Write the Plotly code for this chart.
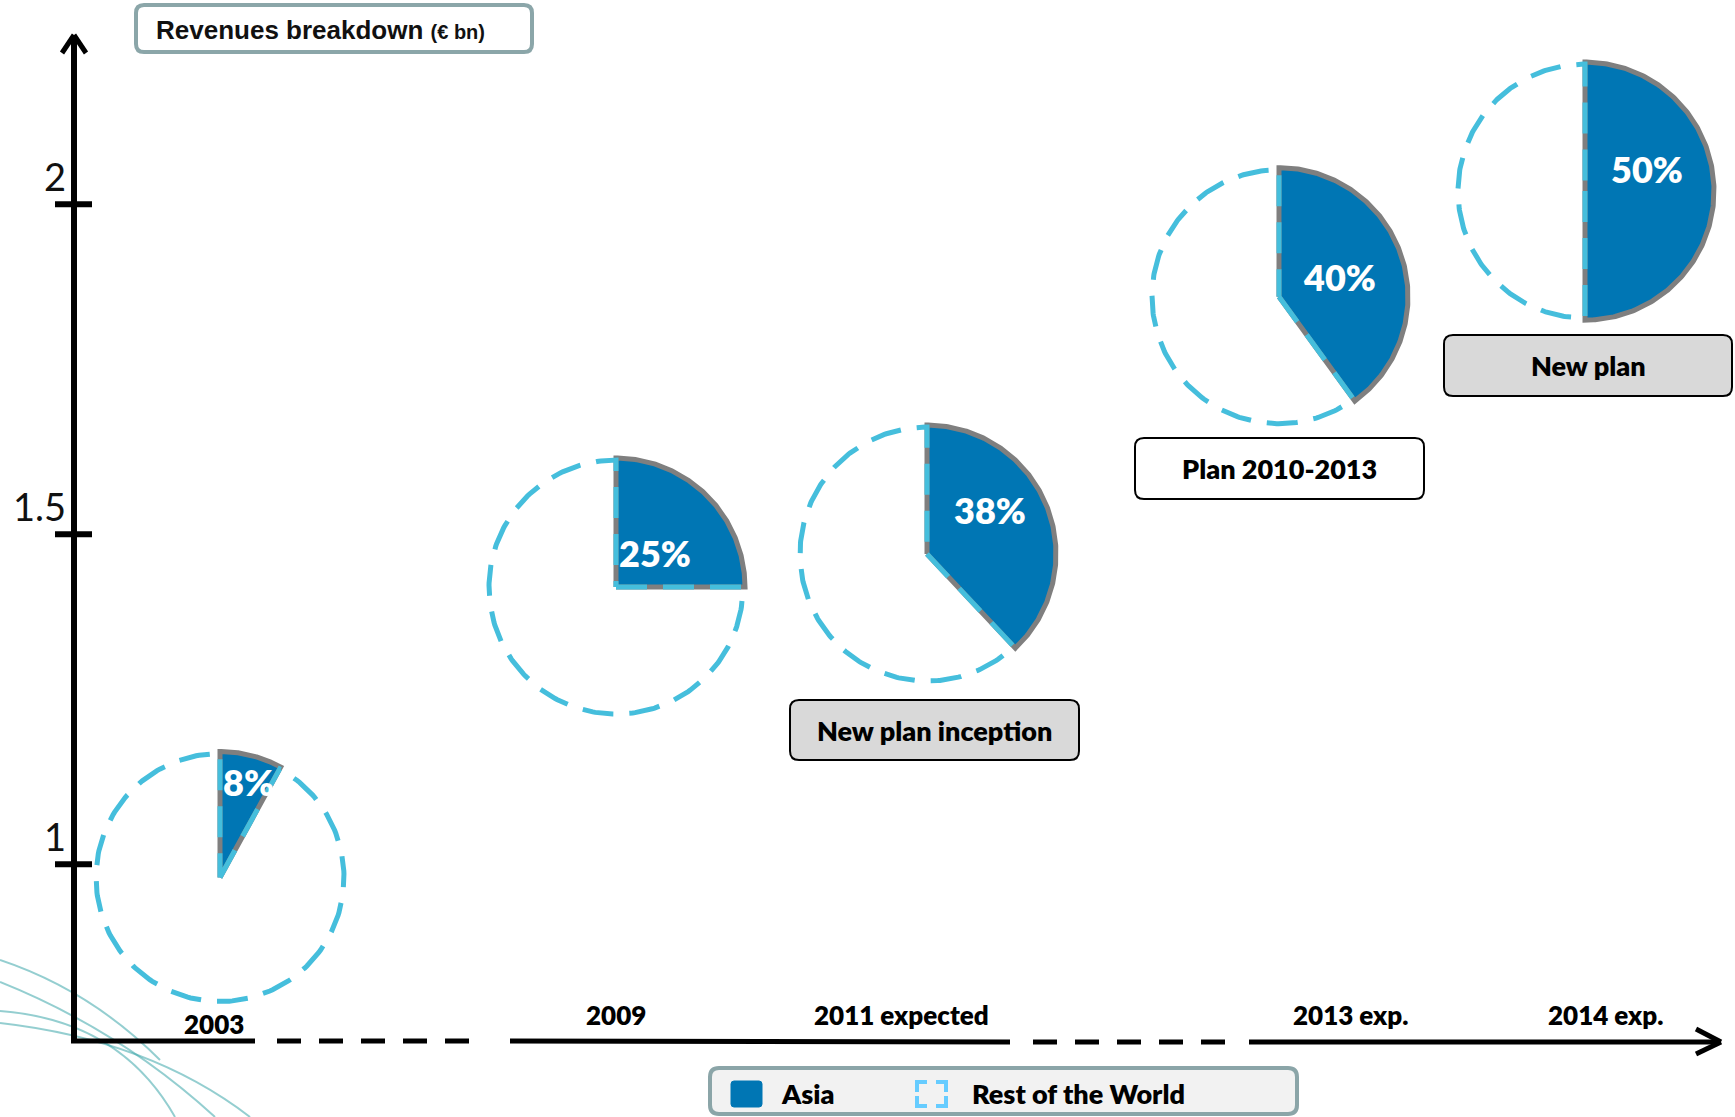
import numpy as np
import plotly.graph_objects as go

# ------------------------------------------------------------------ data
periods = ["2003", "2009", "2011 expected", "2013 exp.", "2014 exp."]
revenues_bn = [0.98, 1.42, 1.47, 1.86, 2.02]          # pie centre height (€ bn)
asia_share_pct = [8, 25, 38, 40, 50]                  # Asia share of revenues
series_names = ["Asia", "Rest of the World"]
y_tick_vals = [1, 1.5, 2]
y_tick_text = ["1", "1.5", "2"]
milestones = ["New plan inception", "Plan 2010-2013", "New plan"]
title_main = "Revenues breakdown"
title_unit = "(€ bn)"

# ------------------------------------------------------------------ layout / style
W, H = 1735, 1117
X_RANGE = [0.0, 17.35]
Y_RANGE = [0.6171, 2.3095]
XSPAN = X_RANGE[1] - X_RANGE[0]
YSPAN = Y_RANGE[1] - Y_RANGE[0]

pie_slot_x = [2.20, 6.16, 9.27, 12.79, 15.85]          # horizontal slot of each pie
period_label_x = [2.14, 6.16, 9.01, 13.50, 16.05]      # slot of each period label
period_label_py = [1024, 1015, 1015, 1015, 1015]
pie_radius_px = [124, 127, 127, 127, 127]
pct_offset_px = [(28, -95), (39, -34), (63, -44), (60, -20), (62, -22)]
milestone_boxes = [  # x0, y0, x1, y1 (px), fill
    (790, 700, 1079, 760, "#D9D9D9"),
    (1135, 438, 1424, 499, "#FFFFFF"),
    (1444, 335, 1732, 396, "#D9D9D9"),
]

ASIA = "#0076B4"
ROW_LINE = "#45BEDC"
GREY_ARC = "#7F7F7F"
FONT = "Lato, 'Open Sans', sans-serif"
HEAVY = 800
AXIS_X_PX = 74
AXIS_Y_PX = 1041


def pxx(px):  # paper x
    return px / W


def pyy(py):  # paper y
    return 1 - py / H


def wedge(cx, cy, r_px, a_start, a_end, n=240):
    rx = r_px * XSPAN / W
    ry = r_px * YSPAN / H
    ang = np.radians(np.linspace(a_start, a_end, n))
    xs = np.concatenate([[cx], cx + rx * np.cos(ang), [cx]])
    ys = np.concatenate([[cy], cy + ry * np.sin(ang), [cy]])
    return xs, ys


fig = go.Figure()

for i, (cx, cy, share) in enumerate(zip(pie_slot_x, revenues_bn, asia_share_pct)):
    r = pie_radius_px[i]
    a_end = 90 - 360 * share / 100
    xs, ys = wedge(cx, cy, r + 2, 90, a_end)
    fig.add_trace(go.Scatter(
        x=xs, y=ys, mode="lines", fill="toself", fillcolor=ASIA,
        line=dict(color=GREY_ARC, width=5), name=series_names[0],
        showlegend=False, hoverinfo="skip"))
    xs, ys = wedge(cx, cy, r, a_end, -270)
    fig.add_trace(go.Scatter(
        x=xs, y=ys, mode="lines",
        line=dict(color=ROW_LINE, width=5, dash="31px,16px"),
        name=series_names[1], showlegend=False, hoverinfo="skip"))
    dx, dy = pct_offset_px[i]
    fig.add_annotation(
        x=cx + dx * XSPAN / W, y=cy - dy * YSPAN / H, xref="x", yref="y",
        xanchor="center", yanchor="middle",
        text=f"{share}%", showarrow=False,
        font=dict(family=FONT, size=36, color="white", weight=HEAVY))

# period labels
for lab, lx, ly in zip(periods, period_label_x, period_label_py):
    fig.add_annotation(x=lx, y=pyy(ly), xref="x", yref="paper", text=lab,
                       xanchor="center", yanchor="middle", showarrow=False,
                       font=dict(family=FONT, size=26, color="black", weight=HEAVY))

shapes = []


def line(x0, y0, x1, y1, width=5, dash=None, color="black", layer="above"):
    d = dict(type="line", xref="paper", yref="paper", x0=pxx(x0), y0=pyy(y0),
             x1=pxx(x1), y1=pyy(y1), layer=layer,
             line=dict(color=color, width=width))
    if dash:
        d["line"]["dash"] = dash
    shapes.append(d)


def rrect(x0, y0, x1, y1, r, fill, border, bw, layer="above"):
    X, Y = pxx, pyy
    path = (f"M {X(x0+r)},{Y(y0)} L {X(x1-r)},{Y(y0)} Q {X(x1)},{Y(y0)} {X(x1)},{Y(y0+r)} "
            f"L {X(x1)},{Y(y1-r)} Q {X(x1)},{Y(y1)} {X(x1-r)},{Y(y1)} "
            f"L {X(x0+r)},{Y(y1)} Q {X(x0)},{Y(y1)} {X(x0)},{Y(y1-r)} "
            f"L {X(x0)},{Y(y0+r)} Q {X(x0)},{Y(y0)} {X(x0+r)},{Y(y0)} Z")
    shapes.append(dict(type="path", xref="paper", yref="paper", path=path,
                       fillcolor=fill, layer=layer, line=dict(color=border, width=bw)))


def text(px, py, txt, size=27, xanchor="center", family=FONT, color="black", weight=HEAVY):
    fig.add_annotation(x=pxx(px), y=pyy(py), xref="paper", yref="paper",
                       xanchor=xanchor, yanchor="middle", text=txt, showarrow=False,
                       font=dict(family=family, size=size, color=color, weight=weight))


# decorative swooshes bottom-left
for (sx, sy, qx, qy, ex, ey) in [(0, 982, 120, 1030, 215, 1117),
                                  (0, 1011, 120, 1020, 175, 1117),
                                  (0, 1023, 150, 1040, 250, 1117),
                                  (0, 960, 90, 990, 160, 1060)]:
    shapes.append(dict(type="path", xref="paper", yref="paper", layer="below",
                       path=f"M {pxx(sx)},{pyy(sy)} Q {pxx(qx)},{pyy(qy)} {pxx(ex)},{pyy(ey)}",
                       line=dict(color="rgba(60,165,170,0.55)", width=2)))

# y axis with arrow
line(AXIS_X_PX, AXIS_Y_PX + 2, AXIS_X_PX, 35, width=6)
line(62, 53, AXIS_X_PX, 35, width=5)
line(86, 53, AXIS_X_PX, 35, width=5)
for v in y_tick_vals:
    shapes.append(dict(type="line", xref="paper", yref="y", x0=pxx(55), x1=pxx(92),
                       y0=v, y1=v, line=dict(color="black", width=6)))

# x axis: solid / dashed segments and arrow
line(AXIS_X_PX - 3, AXIS_Y_PX, 255, AXIS_Y_PX)
line(277, AXIS_Y_PX, 487, AXIS_Y_PX, dash="24px,18px")
line(510, AXIS_Y_PX, 1010, AXIS_Y_PX + 1)
line(1033, AXIS_Y_PX + 1, 1239, AXIS_Y_PX + 1, dash="24px,18px")
line(1249, AXIS_Y_PX + 1, 1719, AXIS_Y_PX + 1)
line(1696, 1029, 1721, AXIS_Y_PX + 1, width=5)
line(1696, 1054, 1721, AXIS_Y_PX + 1, width=5)

# title box
rrect(136, 5, 532, 52, 8, "white", "#8BA6A9", 4)
text(154, 30, f"<b>{title_main}</b> <b><span style='font-size:20px'>{title_unit}</span></b>",
     size=26, xanchor="left", family="'Liberation Sans', Arial, sans-serif", color="#111",
     weight="normal")

# milestone boxes
for txt, (x0, y0, x1, y1, fill) in zip(milestones, milestone_boxes):
    rrect(x0, y0, x1, y1, 9, fill, "black", 2)
    text((x0 + x1) / 2, (y0 + y1) / 2, txt)

# legend
rrect(710, 1068, 1297, 1114, 9, "#F2F2F2", "#8BA5A8", 4)
rrect(731, 1081, 762, 1107, 3, ASIA, ASIA, 1)
LC = "#66CCFF"
ix0, iy0, ix1, iy1, a = 917, 1082, 946, 1106, 10
for (px_, py_, hx, vy) in [(ix0, iy0, 1, 1), (ix1, iy0, -1, 1), (ix0, iy1, 1, -1), (ix1, iy1, -1, -1)]:
    shapes.append(dict(type="path", xref="paper", yref="paper",
                       path=f"M {pxx(px_ + hx * a)},{pyy(py_)} L {pxx(px_)},{pyy(py_)} L {pxx(px_)},{pyy(py_ + vy * a)}",
                       line=dict(color=LC, width=4)))
text(779, 1093, series_names[0], xanchor="left")
text(970, 1093, series_names[1], xanchor="left")

fig.update_layout(
    width=W, height=H, margin=dict(l=0, r=0, t=0, b=0),
    paper_bgcolor="white", plot_bgcolor="white", showlegend=False,
    shapes=shapes,
    xaxis=dict(range=X_RANGE, visible=False, fixedrange=True),
    yaxis=dict(range=Y_RANGE, showgrid=False, zeroline=False, showline=False,
               tickvals=y_tick_vals, ticktext=y_tick_text, ticks="",
               anchor="free", position=AXIS_X_PX / W, automargin=False,
               ticklabelposition="outside top", ticklabelstandoff=8,
               tickfont=dict(family=FONT, size=38, color="#111", weight=400),
               fixedrange=True),
)

fig.write_html("out.html", config={"displayModeBar": False},
               post_script="document.body.style.margin='0';document.body.style.overflow='hidden';")
